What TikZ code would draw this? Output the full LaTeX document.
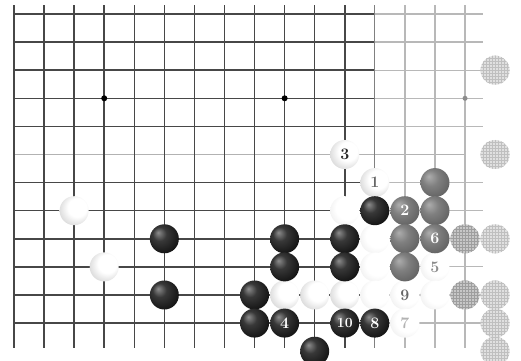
\documentclass[tikz,border=0pt]{standalone}
\usetikzlibrary{patterns}
\pgfdeclareradialshading{wst}{\pgfpoint{8bp}{8bp}}{color(0bp)=(white); color(16bp)=(white); color(30bp)=(black!14); color(42bp)=(black!32); color(50bp)=(black!45)}
\pgfdeclareradialshading{fst}{\pgfpoint{8bp}{8bp}}{color(0bp)=(white); color(20bp)=(white); color(36bp)=(black!8); color(50bp)=(black!24)}
\pgfdeclareradialshading{bst}{\pgfpoint{-11bp}{11bp}}{color(0bp)=(black!45); color(12bp)=(black!78); color(30bp)=(black!92); color(50bp)=(black)}
\pgfdeclareradialshading{gst}{\pgfpoint{-11bp}{11bp}}{color(0bp)=(black!32); color(14bp)=(black!50); color(32bp)=(black!62); color(50bp)=(black!72)}
\tikzset{
  stone/.style={circle, minimum size=29pt, inner sep=0pt, font=\fontsize{16}{16}\selectfont\bfseries},
  wstone/.style={stone, shading=wst, text=black!85},
  fstone/.style={stone, shading=fst, text=black!35},
  bstone/.style={stone, shading=bst, text=white},
  gstone/.style={stone, shading=gst, text=white},
  hstone/.style={stone, fill=black!22, postaction={pattern=grid, pattern color=black!38}},
  lstone/.style={stone, fill=black!12, postaction={pattern=grid, pattern color=black!25}},
  gridline/.style={line width=1.5pt, draw=black!72},
  fadeline/.style={line width=1.2pt, draw=black!28},
  stardot/.style={circle, fill=black, minimum size=6pt, inner sep=0pt}
}
\begin{document}
\begin{tikzpicture}[x=30.07pt,y=-28.1pt]
\useasboundingbox (-0.4656,-0.4982) rectangle (16.8607,12.3488);
\fill[white] (-0.4656,-0.4982) rectangle (16.8607,12.3488);
% horizontal lines
\foreach \r in {0,1,2,3,4,6,7,8,9,10,11}{
  \draw[gridline] (0,\r) -- (12,\r);
  \draw[fadeline] (12,\r) -- (15.6,\r);
}
\draw[line width=1.2pt, draw=black!30] (0,5) -- (15,5);
% vertical lines
\foreach \c in {0,...,11}{
  \draw[gridline] (\c,-0.32) -- (\c,11.89);
}
\draw[line width=1.3pt, draw=black!50] (12,-0.32) -- (12,11.89);
\foreach \c in {13,14,15}{
  \draw[fadeline] (\c,-0.32) -- (\c,11.89);
}
% star points
\node[stardot] (h1) at (3,3) {};
\node[stardot] (h2) at (9,3) {};
\node[stardot, fill=black!45, minimum size=5pt] (h3) at (15,3) {};
% ghost stones
\node[lstone] (l16-2) at (16,2) {};
\node[lstone] (l16-5) at (16,5) {};
\node[hstone] (h15-8) at (15,8) {};
\node[lstone] (l16-8) at (16,8) {};
\node[hstone] (h15-10) at (15,10) {};
\node[lstone] (l16-10) at (16,10) {};
\node[lstone] (l16-11) at (16,11) {};
\node[lstone] (l16-12) at (16,12) {};
% white stones
\node[wstone] (w2-7) at (2,7) {};
\node[wstone] (w3-9) at (3,9) {};
\node[wstone] (w11-5) at (11,5) {3};
\node[wstone, text=black!60] (w12-6) at (12,6) {1};
\node[wstone] (w9-10) at (9,10) {};
\node[wstone] (w10-10) at (10,10) {};
\node[wstone] (w11-10) at (11,10) {};
\node[fstone, text=black!60] (w13-10) at (13,10) {9};
\node[fstone, text=black!45] (w14-9) at (14,9) {5};
\node[fstone] (w11-7) at (11,7) {};
\node[fstone] (w12-8) at (12,8) {};
\node[fstone] (w12-9) at (12,9) {};
\node[fstone] (w12-10) at (12,10) {};
\node[fstone] (w14-10) at (14,10) {};
\node[fstone, text=black!30] (w13-11) at (13,11) {7};
% black stones
\node[bstone] (b5-8) at (5,8) {};
\node[bstone] (b5-10) at (5,10) {};
\node[bstone] (b8-10) at (8,10) {};
\node[bstone] (b8-11) at (8,11) {};
\node[bstone] (b9-8) at (9,8) {};
\node[bstone] (b9-9) at (9,9) {};
\node[bstone] (b11-8) at (11,8) {};
\node[bstone] (b11-9) at (11,9) {};
\node[bstone] (b12-7) at (12,7) {};
\node[bstone] (b9-11) at (9,11) {4};
\node[bstone, font=\fontsize{14}{14}\selectfont\bfseries] (b11-11) at (11,11) {10};
\node[bstone] (b12-11) at (12,11) {8};
\node[bstone] (b10-12) at (10,12) {};
% grey stones
\node[gstone] (g14-6) at (14,6) {};
\node[gstone] (g13-7) at (13,7) {2};
\node[gstone] (g14-7) at (14,7) {};
\node[gstone] (g13-8) at (13,8) {};
\node[gstone] (g14-8) at (14,8) {6};
\node[gstone] (g13-9) at (13,9) {};
\end{tikzpicture}
\end{document}
